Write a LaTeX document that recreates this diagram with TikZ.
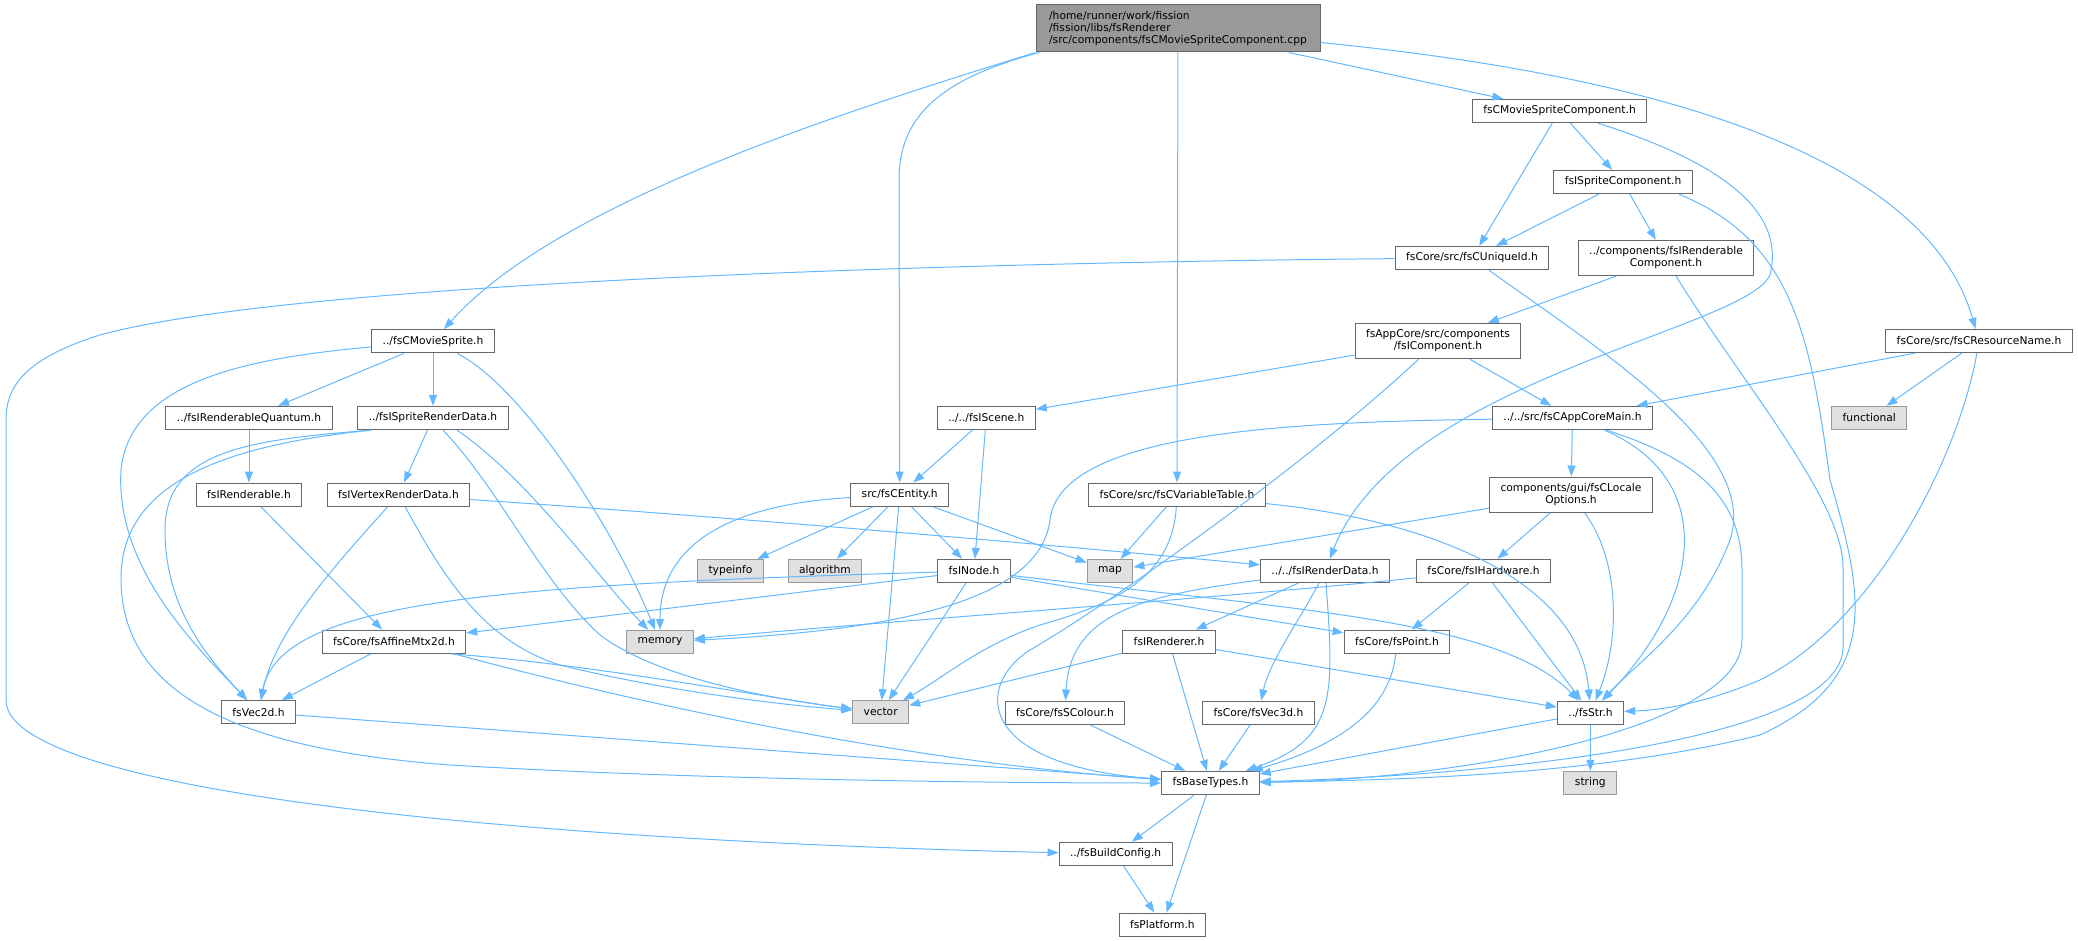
\documentclass[tikz,border=0pt]{standalone}
\usepackage{fontspec}
\setmainfont{DejaVu Sans}
\usetikzlibrary{arrows.meta}

\definecolor{edgeblue}{HTML}{63B8FF}
\definecolor{boxline}{HTML}{666666}
\definecolor{greyline}{HTML}{999999}
\definecolor{greyfill}{HTML}{E0E0E0}
\definecolor{rootfill}{HTML}{999999}

\begin{document}
\begin{tikzpicture}[x=1pt, y=-1pt,
  box/.style={draw=boxline, fill=white, line width=1pt, inner xsep=11pt, inner ysep=0pt,
    minimum height=23.3pt, font=\fontsize{10.7}{12}\selectfont},
  sysbox/.style={box, draw=greyline, fill=greyfill},
  tallbox/.style={box, align=center, minimum height=35.3pt},
  rootbox/.style={box, fill=rootfill, align=left, minimum width=284pt, minimum height=47pt},
  edge/.style={draw=edgeblue, line width=1pt, -{Triangle[length=11pt,width=8pt]}}]
\useasboundingbox (0,0) rectangle (2078,941);

% Files of the include graph, row by row
\node[rootbox] (root) at (1178,28.5) {/home/runner/work/fission\\/fission/libs/fsRenderer\\/src/components/fsCMovieSpriteComponent.cpp};
\node[box] (moviecomp) at (1559.5,111) {fsCMovieSpriteComponent.h};
\node[box] (spritecomp) at (1623,182) {fsISpriteComponent.h};
\node[box] (uniqueid) at (1472,258) {fsCore/src/fsCUniqueId.h};
\node[tallbox] (rendercomp) at (1666,258) {../components/fsIRenderable\\Component.h};
\node[box] (moviesprite) at (433,341.3) {../fsCMovieSprite.h};
\node[tallbox] (icomponent) at (1438,341) {fsAppCore/src/components\\/fsIComponent.h};
\node[box] (resname) at (1979,341) {fsCore/src/fsCResourceName.h};
\node[box] (quantum) at (249,418) {../fsIRenderableQuantum.h};
\node[box] (spritedata) at (433,418) {../fsISpriteRenderData.h};
\node[box] (iscene) at (986.3,417.7) {../../fsIScene.h};
\node[box] (appmain) at (1572.5,418) {../../src/fsCAppCoreMain.h};
\node[sysbox] (functional) at (1869.3,418) {functional};
\node[box] (renderable) at (249,494.7) {fsIRenderable.h};
\node[box] (vertexdata) at (398.5,494.7) {fsIVertexRenderData.h};
\node[box] (entity) at (899.7,494.7) {src/fsCEntity.h};
\node[box] (vartable) at (1177,494.7) {fsCore/src/fsCVariableTable.h};
\node[tallbox] (locale) at (1571,494.7) {components/gui/fsCLocale\\Options.h};
\node[sysbox] (typeinfo) at (730.5,571) {typeinfo};
\node[sysbox] (algorithm) at (825,571) {algorithm};
\node[box] (inode) at (974,571) {fsINode.h};
\node[sysbox] (map) at (1110,571) {map};
\node[box] (renderdata) at (1325,571) {../../fsIRenderData.h};
\node[box] (hardware) at (1483.5,571) {fsCore/fsIHardware.h};
\node[box] (affine) at (394,641.7) {fsCore/fsAffineMtx2d.h};
\node[sysbox] (memory) at (660,642) {memory};
\node[box] (renderer) at (1169,641.7) {fsIRenderer.h};
\node[box] (point) at (1397,641.7) {fsCore/fsPoint.h};
\node[box] (vectwo) at (258.5,712.3) {fsVec2d.h};
\node[sysbox] (vector) at (880.7,712.3) {vector};
\node[box] (colour) at (1065,712.7) {fsCore/fsSColour.h};
\node[box] (vecthree) at (1258.5,712.7) {fsCore/fsVec3d.h};
\node[box] (str) at (1590.5,712.7) {../fsStr.h};
\node[box] (basetypes) at (1210.4,783) {fsBaseTypes.h};
\node[sysbox] (string) at (1590.3,783) {string};
\node[box] (buildcfg) at (1115.6,854) {../fsBuildConfig.h};
\node[box] (platform) at (1162.4,924.7) {fsPlatform.h};

% The .cpp file
\draw[edge] (root.south west) .. controls (850,110) and (560,200) .. (moviesprite);
\draw[edge] ([xshift=4pt]root.south west) .. controls (935,80) and (899,120) .. (899,180) -- (entity);
\draw[edge] (root) -- (vartable);
\draw[edge] (root) -- (moviecomp);
\draw[edge] (root) .. controls (1700,80) and (1930,170) .. (resname);

% Components
\draw[edge] (moviecomp) -- (spritecomp);
\draw[edge] (moviecomp) -- (uniqueid);
\draw[edge] (moviecomp) .. controls (1730,165) and (1785,215) .. (1770,275) .. controls (1745,330) and (1400,380) .. (renderdata);
\draw[edge] (spritecomp) -- (uniqueid);
\draw[edge] (spritecomp) -- (rendercomp);
\draw[edge] ([xshift=56pt]spritecomp.south) .. controls (1790,240) and (1810,330) .. (1830,480) .. controls (1865,600) and (1880,680) .. (1760,735) .. controls (1600,775) and (1400,780) .. (basetypes);
\draw[edge] (uniqueid) .. controls (1000,262) and (300,280) .. (100,335) .. controls (20,360) and (6,390) .. (6,420) -- (6,700) .. controls (6,790) and (500,840) .. (buildcfg);
\draw[edge] (uniqueid) .. controls (1600,350) and (1760,450) .. (1730,540) .. controls (1700,620) and (1640,660) .. (str);
\draw[edge] (rendercomp) -- (icomponent);
\draw[edge] ([xshift=10pt]rendercomp.south) .. controls (1740,380) and (1843,500) .. (1843,567) -- (1843,647) .. controls (1843,740) and (1500,775) .. (basetypes);
\draw[edge] (icomponent) -- (iscene);
\draw[edge] (icomponent) -- (appmain);
\draw[edge] (icomponent) .. controls (1300,470) and (1100,610) .. (1030,650) .. controls (975,685) and (975,765) .. (basetypes);
\draw[edge] (resname) -- (appmain);
\draw[edge] (resname) -- (functional);
\draw[edge] (resname) .. controls (1960,450) and (1880,620) .. (1760,680) .. controls (1700,705) and (1660,710) .. (str);

% App core
\draw[edge] (appmain) .. controls (1300,422) and (1060,430) .. (1050,520) .. controls (1040,600) and (900,630) .. (memory);
\draw[edge] (appmain) -- (locale);
\draw[edge] ([xshift=32pt]appmain.south) .. controls (1720,480) and (1700,600) .. (str);
\draw[edge] ([xshift=34pt]appmain.south) .. controls (1700,460) and (1742,500) .. (1742,570) -- (1742,640) .. controls (1742,730) and (1450,780) .. (basetypes);
\draw[edge] (locale) -- (map);
\draw[edge] (locale) -- (hardware);
\draw[edge] (locale) .. controls (1620,560) and (1620,640) .. (str);
\draw[edge] (hardware) .. controls (1200,600) and (900,620) .. (memory);
\draw[edge] (hardware) -- (point);
\draw[edge] (hardware) -- (str);
\draw[edge] (vartable) -- (map);
\draw[edge] (vartable) .. controls (1172,580) and (1110,605) .. (1040,625) .. controls (980,645) and (940,680) .. (vector);
\draw[edge] (vartable) .. controls (1430,520) and (1580,580) .. (str);

% Sprites
\draw[edge] (moviesprite) .. controls (250,358) and (130,380) .. (121,470) .. controls (115,570) and (200,650) .. (vectwo);
\draw[edge] (moviesprite) -- (quantum);
\draw[edge] (moviesprite) -- (spritedata);
\draw[edge] (moviesprite) .. controls (520,385) and (610,520) .. (memory);
\draw[edge] (quantum) -- (renderable);
\draw[edge] (renderable) -- (affine);
\draw[edge] ([xshift=-62pt]spritedata.south) .. controls (250,440) and (165,450) .. (165,530) .. controls (165,610) and (210,660) .. (vectwo);
\draw[edge] ([xshift=-62pt]spritedata.south) .. controls (230,445) and (120,480) .. (121,580) .. controls (122,700) and (250,750) .. (450,765) .. controls (700,780) and (1000,783) .. (basetypes);
\draw[edge] (spritedata) -- (vertexdata);
\draw[edge] ([xshift=24pt]spritedata.south) .. controls (530,480) and (600,580) .. (memory);
\draw[edge] ([xshift=10pt]spritedata.south) .. controls (500,490) and (540,580) .. (600,635) .. controls (660,680) and (780,700) .. (vector);
\draw[edge] (vertexdata) .. controls (340,560) and (275,630) .. (vectwo);
\draw[edge] (vertexdata) .. controls (440,570) and (480,640) .. (560,665) .. controls (660,690) and (780,705) .. (vector);
\draw[edge] (vertexdata) .. controls (700,515) and (1000,540) .. (renderdata);

% Scene and entity
\draw[edge] (iscene) -- (entity);
\draw[edge] (iscene) -- (inode);
\draw[edge] (entity) .. controls (720,505) and (660,550) .. (memory);
\draw[edge] (entity) -- (typeinfo);
\draw[edge] (entity) -- (algorithm);
\draw[edge] (entity) -- (inode);
\draw[edge] (entity) -- (vector);
\draw[edge] (entity) -- (map);
\draw[edge] (inode) -- (affine);
\draw[edge] (inode) .. controls (500,585) and (280,600) .. (vectwo);
\draw[edge] (inode) -- (vector);
\draw[edge] (inode) -- (point);
\draw[edge] (inode) .. controls (1300,610) and (1500,620) .. (str);

% Maths and render data
\draw[edge] (affine) -- (vectwo);
\draw[edge] ([xshift=57pt]affine.south) .. controls (600,665) and (780,700) .. (vector);
\draw[edge] ([xshift=60pt]affine.south) .. controls (700,720) and (950,765) .. (basetypes);
\draw[edge] (vectwo) -- (basetypes);
\draw[edge] (renderdata) -- (renderer);
\draw[edge] (renderdata) .. controls (1150,595) and (1070,610) .. (colour);
\draw[edge] (renderdata) .. controls (1300,620) and (1270,660) .. (vecthree);
\draw[edge] (renderdata) .. controls (1335,700) and (1335,740) .. (basetypes);
\draw[edge] (renderer) -- (vector);
\draw[edge] (renderer) -- (basetypes);
\draw[edge] (renderer) -- (str);

% Base headers
\draw[edge] (colour) -- (basetypes);
\draw[edge] (vecthree) -- (basetypes);
\draw[edge] (point) .. controls (1390,710) and (1340,745) .. (basetypes);
\draw[edge] (str) -- (basetypes);
\draw[edge] (str) -- (string);
\draw[edge] (basetypes) -- (buildcfg);
\draw[edge] (basetypes) -- (platform);
\draw[edge] (buildcfg) -- (platform);
\end{tikzpicture}
\end{document}
